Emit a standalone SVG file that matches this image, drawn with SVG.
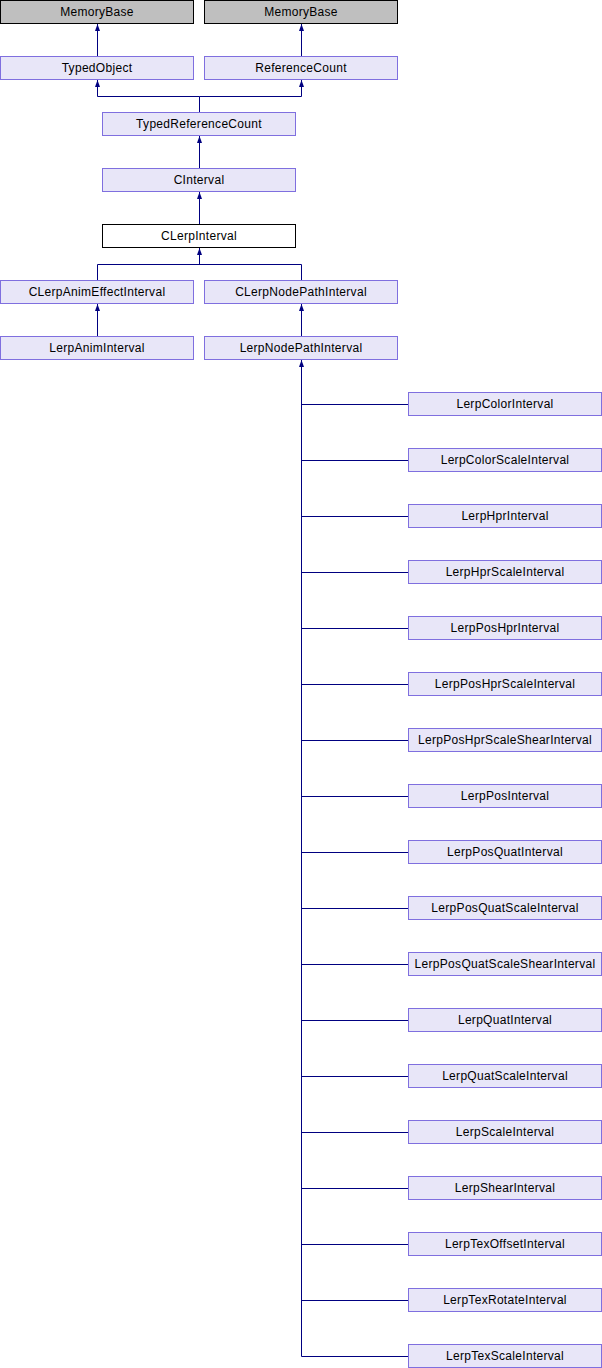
<svg xmlns="http://www.w3.org/2000/svg" width="602" height="1368" viewBox="0 0 602 1368">
  <style>
    .box { fill: #E8E6F8; stroke: #7F6FDF; stroke-width: 1; }
    .ext { fill: #BFBFBF; stroke: #000000; stroke-width: 1; }
    .cur { fill: #FFFFFF; stroke: #000000; stroke-width: 1; }
    .lbl { font-family: "Liberation Sans", Arial, sans-serif; font-size: 12px; letter-spacing: 0.3px; fill: #000000; text-anchor: middle; }
    .edge { fill: none; stroke: #000080; stroke-width: 1; }
  </style>
  <defs>
    <marker id="inherit" markerUnits="userSpaceOnUse" markerWidth="7" markerHeight="6" viewBox="0 0 7 6" refX="7" refY="3" orient="auto">
      <path d="M0,0.5 L7,3 L0,5.5 z" fill="#000080"/>
    </marker>
  </defs>

  <!-- inheritance connectors -->
  <g id="connectors">
    <path class="edge" d="M97.5,56 V24" marker-end="url(#inherit)"/>
    <path class="edge" d="M301.5,56 V24" marker-end="url(#inherit)"/>
    <path class="edge" d="M199.5,112 V96.5 H97.5 V80" marker-end="url(#inherit)"/>
    <path class="edge" d="M199.5,96.5 H301.5 V80" marker-end="url(#inherit)"/>
    <path class="edge" d="M199.5,168 V136" marker-end="url(#inherit)"/>
    <path class="edge" d="M199.5,224 V192" marker-end="url(#inherit)"/>
    <path class="edge" d="M97.5,280 V264.5 H301.5 V280"/>
    <path class="edge" d="M199.5,264.5 V248" marker-end="url(#inherit)"/>
    <path class="edge" d="M97.5,336 V304" marker-end="url(#inherit)"/>
    <path class="edge" d="M301.5,336 V304" marker-end="url(#inherit)"/>
    <path class="edge" d="M301.5,1356.5 V360" marker-end="url(#inherit)"/>
    <path class="edge" d="M301.5,404.5 H408 M301.5,460.5 H408 M301.5,516.5 H408 M301.5,572.5 H408 M301.5,628.5 H408 M301.5,684.5 H408 M301.5,740.5 H408 M301.5,796.5 H408 M301.5,852.5 H408 M301.5,908.5 H408 M301.5,964.5 H408 M301.5,1020.5 H408 M301.5,1076.5 H408 M301.5,1132.5 H408 M301.5,1188.5 H408 M301.5,1244.5 H408 M301.5,1300.5 H408 M301.5,1356.5 H408"/>
  </g>

  <g id="MemoryBase_1"><rect class="ext" x="0.5" y="0.5" width="193" height="23"/><text class="lbl" x="97" y="15.5">MemoryBase</text></g>
  <g id="MemoryBase_2"><rect class="ext" x="204.5" y="0.5" width="193" height="23"/><text class="lbl" x="301" y="15.5">MemoryBase</text></g>
  <g id="TypedObject"><rect class="box" x="0.5" y="56.5" width="193" height="23"/><text class="lbl" x="97" y="71.5">TypedObject</text></g>
  <g id="ReferenceCount"><rect class="box" x="204.5" y="56.5" width="193" height="23"/><text class="lbl" x="301" y="71.5">ReferenceCount</text></g>
  <g id="TypedReferenceCount"><rect class="box" x="102.5" y="112.5" width="193" height="23"/><text class="lbl" x="199" y="127.5">TypedReferenceCount</text></g>
  <g id="CInterval"><rect class="box" x="102.5" y="168.5" width="193" height="23"/><text class="lbl" x="199" y="183.5">CInterval</text></g>
  <g id="CLerpInterval"><rect class="cur" x="102.5" y="224.5" width="193" height="23"/><text class="lbl" x="199" y="239.5">CLerpInterval</text></g>
  <g id="CLerpAnimEffectInterval"><rect class="box" x="0.5" y="280.5" width="193" height="23"/><text class="lbl" x="97" y="295.5">CLerpAnimEffectInterval</text></g>
  <g id="CLerpNodePathInterval"><rect class="box" x="204.5" y="280.5" width="193" height="23"/><text class="lbl" x="301" y="295.5">CLerpNodePathInterval</text></g>
  <g id="LerpAnimInterval"><rect class="box" x="0.5" y="336.5" width="193" height="23"/><text class="lbl" x="97" y="351.5">LerpAnimInterval</text></g>
  <g id="LerpNodePathInterval"><rect class="box" x="204.5" y="336.5" width="193" height="23"/><text class="lbl" x="301" y="351.5">LerpNodePathInterval</text></g>

  <g id="LerpColorInterval"><rect class="box" x="408.5" y="392.5" width="193" height="23"/><text class="lbl" x="505" y="407.5">LerpColorInterval</text></g>
  <g id="LerpColorScaleInterval"><rect class="box" x="408.5" y="448.5" width="193" height="23"/><text class="lbl" x="505" y="463.5">LerpColorScaleInterval</text></g>
  <g id="LerpHprInterval"><rect class="box" x="408.5" y="504.5" width="193" height="23"/><text class="lbl" x="505" y="519.5">LerpHprInterval</text></g>
  <g id="LerpHprScaleInterval"><rect class="box" x="408.5" y="560.5" width="193" height="23"/><text class="lbl" x="505" y="575.5">LerpHprScaleInterval</text></g>
  <g id="LerpPosHprInterval"><rect class="box" x="408.5" y="616.5" width="193" height="23"/><text class="lbl" x="505" y="631.5">LerpPosHprInterval</text></g>
  <g id="LerpPosHprScaleInterval"><rect class="box" x="408.5" y="672.5" width="193" height="23"/><text class="lbl" x="505" y="687.5">LerpPosHprScaleInterval</text></g>
  <g id="LerpPosHprScaleShearInterval"><rect class="box" x="408.5" y="728.5" width="193" height="23"/><text class="lbl" x="505" y="743.5">LerpPosHprScaleShearInterval</text></g>
  <g id="LerpPosInterval"><rect class="box" x="408.5" y="784.5" width="193" height="23"/><text class="lbl" x="505" y="799.5">LerpPosInterval</text></g>
  <g id="LerpPosQuatInterval"><rect class="box" x="408.5" y="840.5" width="193" height="23"/><text class="lbl" x="505" y="855.5">LerpPosQuatInterval</text></g>
  <g id="LerpPosQuatScaleInterval"><rect class="box" x="408.5" y="896.5" width="193" height="23"/><text class="lbl" x="505" y="911.5">LerpPosQuatScaleInterval</text></g>
  <g id="LerpPosQuatScaleShearInterval"><rect class="box" x="408.5" y="952.5" width="193" height="23"/><text class="lbl" x="505" y="967.5">LerpPosQuatScaleShearInterval</text></g>
  <g id="LerpQuatInterval"><rect class="box" x="408.5" y="1008.5" width="193" height="23"/><text class="lbl" x="505" y="1023.5">LerpQuatInterval</text></g>
  <g id="LerpQuatScaleInterval"><rect class="box" x="408.5" y="1064.5" width="193" height="23"/><text class="lbl" x="505" y="1079.5">LerpQuatScaleInterval</text></g>
  <g id="LerpScaleInterval"><rect class="box" x="408.5" y="1120.5" width="193" height="23"/><text class="lbl" x="505" y="1135.5">LerpScaleInterval</text></g>
  <g id="LerpShearInterval"><rect class="box" x="408.5" y="1176.5" width="193" height="23"/><text class="lbl" x="505" y="1191.5">LerpShearInterval</text></g>
  <g id="LerpTexOffsetInterval"><rect class="box" x="408.5" y="1232.5" width="193" height="23"/><text class="lbl" x="505" y="1247.5">LerpTexOffsetInterval</text></g>
  <g id="LerpTexRotateInterval"><rect class="box" x="408.5" y="1288.5" width="193" height="23"/><text class="lbl" x="505" y="1303.5">LerpTexRotateInterval</text></g>
  <g id="LerpTexScaleInterval"><rect class="box" x="408.5" y="1344.5" width="193" height="23"/><text class="lbl" x="505" y="1359.5">LerpTexScaleInterval</text></g>
</svg>
